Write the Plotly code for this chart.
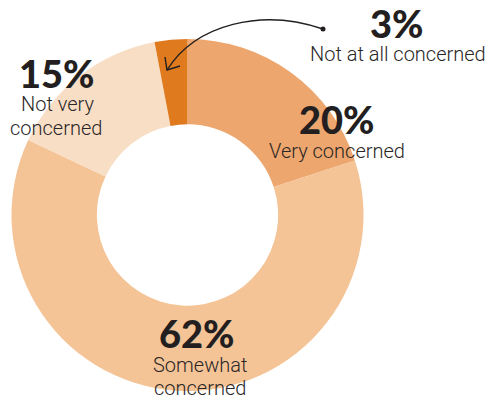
import plotly.graph_objects as go

# Survey shares, listed clockwise from 12 o'clock
categories = ["Very concerned", "Somewhat concerned", "Not very concerned", "Not at all concerned"]
shares = [20, 62, 15, 3]
colors = ["#EDA66D", "#F4C396", "#F9DEC6", "#DF7A1E"]

W, H = 485, 401


def px(x):
    return x / W


def py(y):
    return 1 - y / H


fig = go.Figure()
fig.add_trace(go.Pie(
    labels=categories,
    values=shares,
    hole=0.515,
    sort=False,
    direction="clockwise",
    rotation=0,
    marker=dict(colors=colors, line=dict(width=0)),
    textinfo="none",
    hoverinfo="label+percent",
    showlegend=False,
    domain=dict(x=[px(11), px(364)], y=[py(391), py(39)]),
))

PCT_FONT = dict(family="Lato", size=38, color="#231F20", weight=900)
LBL_FONT = dict(family="Roboto, sans-serif", size=20, color="#2A2627", weight=300)

# (value index, percent position, label lines with positions)
label_layout = [
    (0, (337, 119), [("Very concerned", 337, 151)]),
    (1, (197, 333), [("Somewhat", 200, 365), ("concerned", 200, 388)]),
    (2, (57, 73), [("Not very", 57, 104), ("concerned", 56, 128)]),
    (3, (396, 23), [("Not at all concerned", 398, 54)]),
]

annotations = []
for idx, (cx, cy), lines in label_layout:
    annotations.append(dict(
        text=f"{shares[idx]}%", x=px(cx), y=py(cy), xref="paper", yref="paper",
        xanchor="center", yanchor="middle", showarrow=False, font=PCT_FONT,
    ))
    for txt, lx, ly in lines:
        annotations.append(dict(
            text=txt, x=px(lx), y=py(ly), xref="paper", yref="paper",
            xanchor="center", yanchor="middle", showarrow=False, font=LBL_FONT,
        ))


def path(points, cmd):
    parts = []
    for c, pts in zip(cmd, points):
        parts.append(c + " " + " ".join(f"{px(x):.5f},{py(y):.5f}" for x, y in pts))
    return " ".join(parts)


pointer_line = dict(color="#231F20", width=1.4)
shapes = [
    # curved pointer from the "3%" label to its slice
    dict(type="path", xref="paper", yref="paper",
         path=path([[(323, 29)], [(262, 8), (196, 24), (167, 70)]], ["M", "C"]),
         line=pointer_line),
    # open arrowhead
    dict(type="path", xref="paper", yref="paper",
         path=path([[(165, 57)], [(167, 70)], [(180, 66)]], ["M", "L", "L"]),
         line=pointer_line),
    # dot at the start of the pointer
    dict(type="circle", xref="paper", yref="paper",
         x0=px(320.5), x1=px(325.5), y0=py(31.5), y1=py(26.5),
         fillcolor="#231F20", line=dict(width=0)),
]

fig.update_layout(
    width=W, height=H,
    margin=dict(l=0, r=0, t=0, b=0),
    paper_bgcolor="white",
    plot_bgcolor="white",
    annotations=annotations,
    shapes=shapes,
)

fig.write_html("out.html")
